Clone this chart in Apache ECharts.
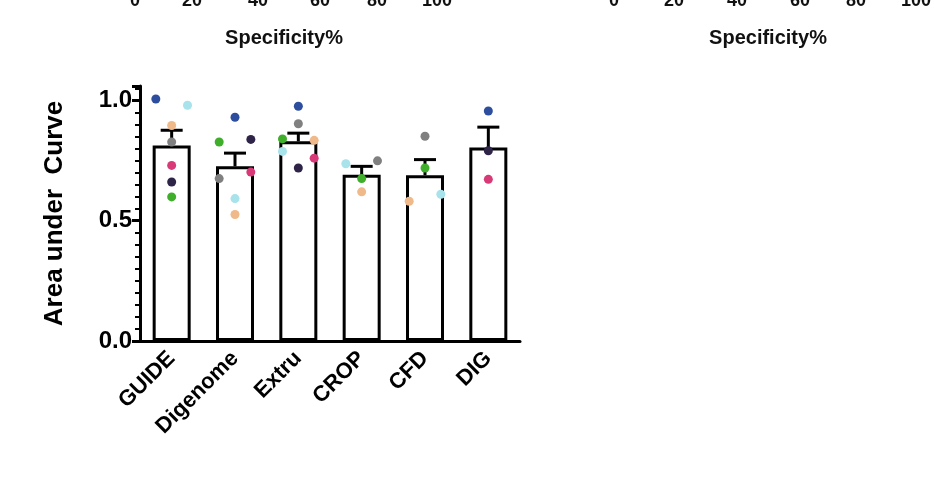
<!DOCTYPE html>
<html>
<head>
  <meta charset="utf-8">
  <script src="https://cdn.jsdelivr.net/npm/echarts@6/dist/echarts.min.js"></script>
  <style>
    html,body { margin: 0; padding: 0; background: #fff; }
  </style>
</head>
<body>
  <div id="main" style="width: 934px;height:484px;"></div>
  <script>
    var categories = ['GUIDE', 'Digenome', 'Extru', 'CROP', 'CFD', 'DIG'];
    var means = [0.813, 0.726, 0.830, 0.691, 0.689, 0.804];
    var errTops = [0.876, 0.781, 0.864, 0.726, 0.754, 0.889];
    var topTicks = ['0', '20', '40', '60', '80', '100'];
    // points per colour: [category index + offset, value]
    var blue = [[-0.25, 1.006], [1, 0.93], [2, 0.976], [5, 0.956]];
    var cyan = [[0.25, 0.98], [1, 0.592], [1.75, 0.788], [2.75, 0.737], [4.25, 0.61]];
    var orange = [[0, 0.896], [1, 0.526], [2.25, 0.834], [3, 0.62], [3.75, 0.581]];
    var gray = [[0, 0.827], [0.75, 0.675], [2, 0.903], [3.25, 0.749], [4, 0.851]];
    var pink = [[0, 0.73], [1.25, 0.702], [2.25, 0.76], [5, 0.672]];
    var dark = [[0, 0.661], [1.25, 0.838], [2, 0.719], [5, 0.791]];
    var green = [[0, 0.599], [0.75, 0.827], [1.75, 0.84], [3, 0.675], [4, 0.719]];

    var chart = echarts.init(document.getElementById('main'));
    var font = 'Liberation Sans, Arial, sans-serif';

    var graphics = [];
    var xs1 = [135, 192, 258, 320, 377, 437];
    var xs2 = [614, 674, 737, 800, 856, 916];
    topTicks.forEach(function (t, i) {
      graphics.push({ type: 'text', x: xs1[i], y: -8, style: { text: t, font: 'bold 18px ' + font, fill: '#111', align: 'center' } });
      graphics.push({ type: 'text', x: xs2[i], y: -8, style: { text: t, font: 'bold 18px ' + font, fill: '#111', align: 'center' } });
    });
    graphics.push({ type: 'text', x: 284, y: 28, style: { text: 'Specificity%', font: 'bold 20px ' + font, fill: '#111', align: 'center' } });
    graphics.push({ type: 'text', x: 768, y: 28, style: { text: 'Specificity%', font: 'bold 20px ' + font, fill: '#111', align: 'center' } });

    function dots(data, color) {
      return {
        type: 'scatter', xAxisIndex: 1, data: data, symbolSize: 9,
        itemStyle: { color: color, opacity: 1 }, z: 5
      };
    }

    var option = {
      animation: false,
      graphic: graphics,
      grid: { left: 140, top: 86, width: 380, height: 255 },
      xAxis: [{
        type: 'category', data: categories,
        axisLine: { lineStyle: { color: '#000', width: 3 } },
        axisTick: { alignWithLabel: true, length: 8, lineStyle: { color: '#000', width: 3 } },
        axisLabel: { rotate: 45, fontSize: 22, fontWeight: 'bold', color: '#000', fontFamily: font, margin: 14 }
      }, {
        type: 'value', min: -0.5, max: 5.5, show: false
      }],
      yAxis: {
        type: 'value', min: 0, max: 1.06, interval: 0.5,
        name: 'Area under  Curve', nameLocation: 'middle', nameGap: 72,
        nameTextStyle: { fontSize: 26, fontWeight: 'bold', color: '#000', fontFamily: font },
        axisLine: { show: true, onZero: false, lineStyle: { color: '#000', width: 3 } },
        axisTick: { show: true, length: 8, lineStyle: { color: '#000', width: 3 } },
        minorTick: { show: true, splitNumber: 10, length: 5, lineStyle: { color: '#000', width: 2 } },
        splitLine: { show: false },
        axisLabel: { fontSize: 24, fontWeight: 'bold', color: '#000', fontFamily: font,
          formatter: function (v) { return v.toFixed(1); } }
      },
      series: [{
        type: 'bar', data: means, barWidth: 38,
        itemStyle: { color: '#fff', borderColor: '#000', borderWidth: 3 }
      }, {
        type: 'custom', z: 4,
        data: means.map(function (m, i) { return [i, m, errTops[i]]; }),
        renderItem: function (params, api) {
          var b = api.coord([api.value(0), api.value(1)]);
          var t = api.coord([api.value(0), api.value(2)]);
          var s = { stroke: '#000', lineWidth: 3 };
          return { type: 'group', children: [
            { type: 'line', shape: { x1: b[0], y1: b[1], x2: t[0], y2: t[1] }, style: s },
            { type: 'line', shape: { x1: t[0] - 11, y1: t[1], x2: t[0] + 11, y2: t[1] }, style: s }
          ] };
        }
      },
        dots(blue, '#2d4e9e'), dots(cyan, '#a8e2ea'), dots(orange, '#f0b98a'),
        dots(gray, '#808080'), dots(pink, '#d83a78'), dots(dark, '#2e2448'), dots(green, '#3fae2a')
      ]
    };
    chart.setOption(option);
  </script>
</body>
</html>
